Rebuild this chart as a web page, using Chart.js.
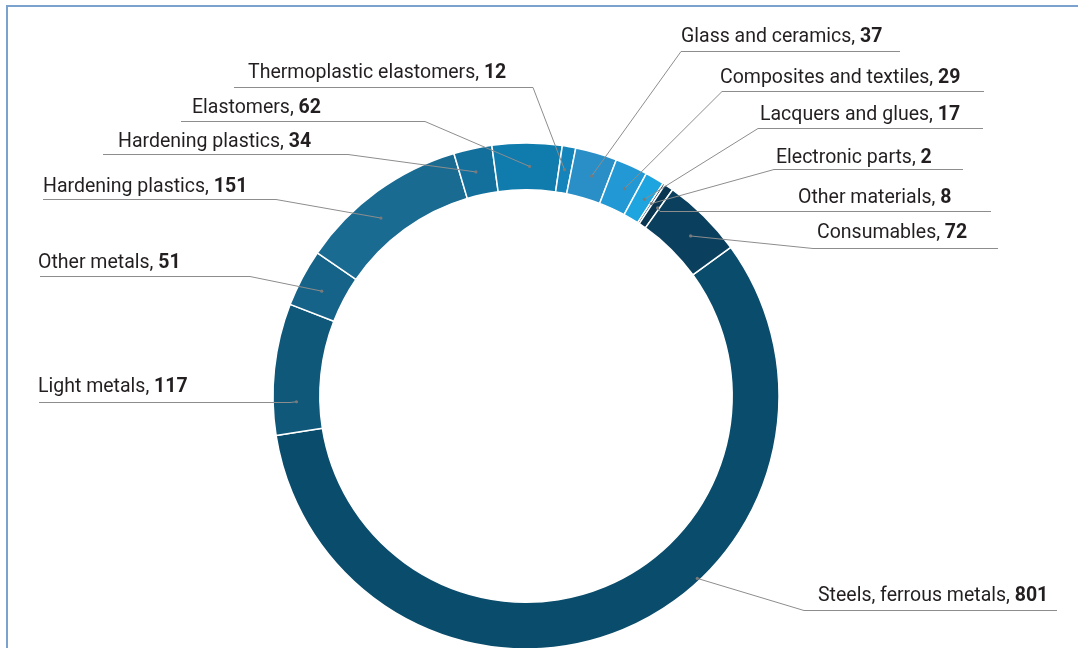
<!DOCTYPE html>
<html>
<head>
<meta charset="utf-8">
<script src="https://cdn.jsdelivr.net/npm/chart.js@4.4.1/dist/chart.umd.min.js"></script>
<style>
  html, body { margin: 0; padding: 0; background: #fff; overflow: hidden; }
  .wrap { position: absolute; left: 0; top: 0; width: 1078px; height: 660px; }
  .frame {
    position: absolute; left: 6px; top: 5px; right: 0; bottom: 0;
    border-top: 2px solid #7ba2cd; border-left: 2px solid #7ba2cd;
    pointer-events: none;
  }
</style>
</head>
<body>
<div class="wrap"><canvas id="materials-chart"></canvas></div>
<div class="frame"></div>
<script>
// material groups, clockwise from the steels slice
const categories = [
    'Steels, ferrous metals', 'Light metals', 'Other metals', 'Hardening plastics',
    'Hardening plastics', 'Elastomers', 'Thermoplastic elastomers', 'Glass and ceramics',
    'Composites and textiles', 'Lacquers and glues', 'Electronic parts', 'Other materials',
    'Consumables'
];
const amounts = [801, 117, 51, 151, 34, 62, 12, 37, 29, 17, 2, 8, 72];
const sliceColors = [
    '#0a4c6b', '#0f5879', '#156388', '#196b92', '#13709d', '#0f7cad', '#1584ba',
    '#2a8fc7', '#2299d4', '#1ea5df', '#0a2b42', '#0b3651', '#0a405e'
];

// callouts: where the text sits, the underline, and where the dot lands inside the slice
// (at = share of the slice angle, depth = share of the ring width)
const callouts = [
    { side: 'right', textX: 818, baseY: 601, lineY: 610, from: 804, to: 1057, at: 0.40, depth: 0.94 },
    { side: 'left',  textX: 38,  baseY: 392, lineY: 402, from: 39,  to: 290,  at: 0.25, depth: 0.5 },
    { side: 'left',  textX: 38,  baseY: 268, lineY: 276, from: 40,  to: 250,  at: 0.45, depth: 0.5 },
    { side: 'left',  textX: 43,  baseY: 192, lineY: 199, from: 43,  to: 276,  at: 0.42, depth: 0.5 },
    { side: 'left',  textX: 118, baseY: 147, lineY: 154, from: 103, to: 348,  at: 0.45, depth: 0.5 },
    { side: 'left',  textX: 192, baseY: 113, lineY: 121, from: 181, to: 425,  at: 0.54, depth: 0.5 },
    { side: 'left',  textX: 248, baseY: 78,  lineY: 87,  from: 234, to: 533,  at: 0.45, depth: 0.5 },
    { side: 'right', textX: 681, baseY: 42,  lineY: 51,  from: 681, to: 900,  at: 0.55, depth: 0.5 },
    { side: 'right', textX: 720, baseY: 83,  lineY: 91,  from: 722, to: 984,  at: 0.60, depth: 0.5 },
    { side: 'right', textX: 760, baseY: 120, lineY: 128, from: 758, to: 983,  at: 0.60, depth: 0.5 },
    { side: 'right', textX: 776, baseY: 163, lineY: 169, from: 774, to: 963,  at: 0.50, depth: 0.5 },
    { side: 'right', textX: 798, baseY: 203, lineY: 211, from: 660, to: 991,  at: 0.80, depth: 0.5 },
    { side: 'right', textX: 817, baseY: 238, lineY: 248, from: 813, to: 998,  at: 0.56, depth: 0.5 }
];

const FONT = 'Roboto, "DejaVu Sans", sans-serif';
const FONT_SIZE = 19.5;

const calloutPlugin = {
    id: 'callouts',
    afterDatasetsDraw(chart) {
        const ctx = chart.ctx;
        const arcs = chart.getDatasetMeta(0).data;
        ctx.save();
        arcs.forEach((arc, i) => {
            const c = callouts[i];
            if (!c) return;
            const { x, y, startAngle, endAngle, innerRadius, outerRadius } =
                arc.getProps(['x', 'y', 'startAngle', 'endAngle', 'innerRadius', 'outerRadius'], true);
            const angle = startAngle + (endAngle - startAngle) * c.at;
            const r = innerRadius + (outerRadius - innerRadius) * c.depth;
            const dx = x + Math.cos(angle) * r;
            const dy = y + Math.sin(angle) * r;
            const elbow = c.side === 'left' ? c.to : c.from;

            ctx.strokeStyle = '#8d8d8d';
            ctx.lineWidth = 1;
            ctx.beginPath();
            ctx.moveTo(c.from, c.lineY + 0.5);
            ctx.lineTo(c.to, c.lineY + 0.5);
            ctx.moveTo(elbow, c.lineY + 0.5);
            ctx.lineTo(dx, dy);
            ctx.stroke();

            ctx.fillStyle = '#7a7a7a';
            ctx.beginPath();
            ctx.arc(dx, dy, 1.6, 0, Math.PI * 2);
            ctx.fill();

            // name in regular weight, amount in bold
            const name = categories[i] + ', ';
            ctx.fillStyle = '#231f20';
            ctx.textBaseline = 'alphabetic';
            ctx.textAlign = 'left';
            ctx.font = `${FONT_SIZE}px ${FONT}`;
            ctx.fillText(name, c.textX, c.baseY);
            const w = ctx.measureText(name).width;
            ctx.font = `bold ${FONT_SIZE}px ${FONT}`;
            ctx.fillText(String(amounts[i]), c.textX + w, c.baseY);
        });
        ctx.restore();
    }
};

new Chart(document.getElementById('materials-chart'), {
    type: 'doughnut',
    data: {
        labels: categories,
        datasets: [{
            data: amounts,
            backgroundColor: sliceColors,
            borderColor: '#ffffff',
            borderWidth: 1.5,
            hoverOffset: 0
        }]
    },
    options: {
        responsive: true,
        maintainAspectRatio: false,
        animation: false,
        rotation: 54,
        radius: 253,
        cutout: '81.5%',
        layout: { padding: { top: 143, bottom: 11, left: 273, right: 299 } },
        plugins: {
            legend: { display: false },
            tooltip: { enabled: false }
        }
    },
    plugins: [calloutPlugin]
});
</script>
</body>
</html>
